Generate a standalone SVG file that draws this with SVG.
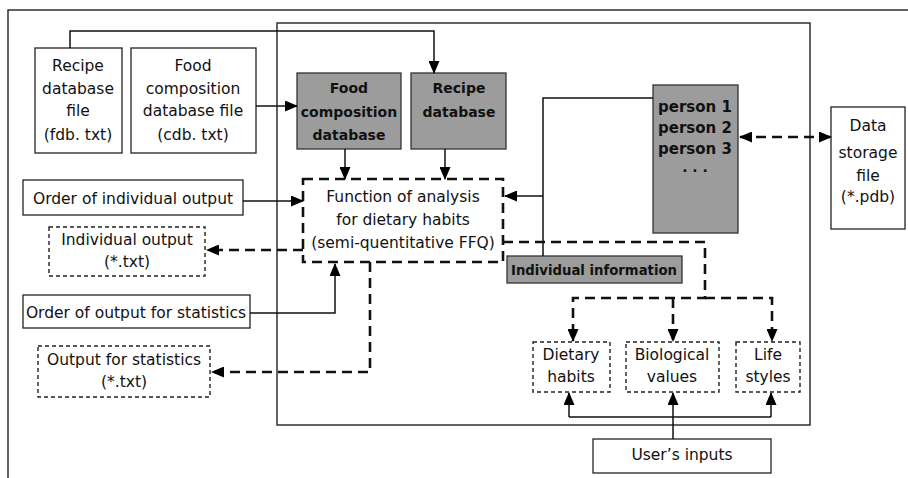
<svg xmlns="http://www.w3.org/2000/svg" width="908" height="478" viewBox="0 0 908 478">
<defs>
<marker id="ah" markerUnits="userSpaceOnUse" markerWidth="13" markerHeight="11" refX="12" refY="5.5" orient="auto-start-reverse" viewBox="0 0 13 11">
<path d="M0,0 L13,5.5 L0,11 z" fill="#000" stroke="none"/>
</marker>
</defs>
<style>
text{font-family:"DejaVu Sans","Liberation Sans",Arial,sans-serif;font-size:15.5px;fill:#111;text-anchor:middle}
.g text{font-weight:bold;font-size:14px;fill:#111}
.box{fill:#fff;stroke:#222;stroke-width:1.3}
.dbox{fill:#fff;stroke:#222;stroke-width:1.4;stroke-dasharray:4 3}
.gbox{fill:#9c9c9c;stroke:#333;stroke-width:1.3}
.fbox{fill:none;stroke:#111;stroke-width:2.6;stroke-dasharray:10 6}
.c{fill:none;stroke:#111;stroke-width:1.5}
.d{fill:none;stroke:#111;stroke-width:2.6;stroke-dasharray:10 6}
.frame{fill:none;stroke:#222;stroke-width:1.4}
</style>
<rect width="908" height="478" fill="#fff"/>
<rect class="frame" x="8" y="10" width="930" height="500"/>
<rect class="frame" x="277" y="23" width="533" height="402"/>

<g id="recipe-file"><rect class="box" x="35" y="48" width="87" height="105"/>
<text x="78" y="71">Recipe</text><text x="78" y="94">database</text><text x="78" y="116">file</text><text x="78" y="140">(fdb. txt)</text></g>
<g id="foodcomp-file"><rect class="box" x="131" y="48" width="125" height="105"/>
<text x="193" y="71">Food</text><text x="193" y="94">composition</text><text x="193" y="116">database file</text><text x="193" y="140">(cdb. txt)</text></g>
<g id="foodcomp-db" class="g"><rect class="gbox" x="297" y="73" width="104" height="76"/>
<text x="349" y="93">Food</text><text x="349" y="117">composition</text><text x="349" y="140">database</text></g>
<g id="recipe-db" class="g"><rect class="gbox" x="411" y="73" width="95" height="76"/>
<text x="459" y="93">Recipe</text><text x="459" y="117">database</text></g>
<g id="persons" class="g"><rect class="gbox" x="653" y="85" width="85" height="148"/>
<text x="695" y="112" style="font-size:15px">person 1</text><text x="695" y="133" style="font-size:15px">person 2</text><text x="695" y="154" style="font-size:15px">person 3</text><text x="695" y="176">· · ·</text></g>
<g id="data-storage"><rect class="box" x="831" y="107" width="74" height="122"/>
<text x="868" y="131">Data</text><text x="868" y="158">storage</text><text x="868" y="181">file</text><text x="868" y="202">(*.pdb)</text></g>
<g id="function"><rect class="fbox" x="303" y="179" width="200" height="83"/>
<text x="403" y="202">Function of analysis</text><text x="403" y="225">for dietary habits</text><text x="403" y="248">(semi-quentitative FFQ)</text></g>
<g id="order-individual"><rect class="box" x="23" y="180" width="220" height="35"/>
<text x="133" y="204">Order of individual output</text></g>
<g id="individual-output"><rect class="dbox" x="49" y="227" width="156" height="49"/>
<text x="127" y="245">Individual output</text><text x="127" y="267">(*.txt)</text></g>
<g id="order-statistics"><rect class="box" x="23" y="295" width="227" height="33"/>
<text x="136" y="318">Order of output for statistics</text></g>
<g id="output-statistics"><rect class="dbox" x="38" y="346" width="172" height="51"/>
<text x="124" y="365">Output for statistics</text><text x="124" y="387">(*.txt)</text></g>
<g id="individual-info" class="g"><rect class="gbox" x="507" y="256" width="175" height="27"/>
<text x="594" y="275" textLength="166" lengthAdjust="spacingAndGlyphs">Individual information</text></g>
<g id="dietary-habits"><rect class="dbox" x="533" y="342" width="77" height="50"/>
<text x="571" y="360">Dietary</text><text x="571" y="382">habits</text></g>
<g id="biological-values"><rect class="dbox" x="626" y="342" width="93" height="50"/>
<text x="672" y="360">Biological</text><text x="672" y="382">values</text></g>
<g id="life-styles"><rect class="dbox" x="736" y="342" width="64" height="50"/>
<text x="768" y="360">Life</text><text x="768" y="382">styles</text></g>
<g id="users-inputs"><rect class="box" x="593" y="439" width="178" height="34"/>
<text x="682" y="460">User’s inputs</text></g>

<g id="connectors">
<path class="c" d="M70,48 V31 H434 V73" marker-end="url(#ah)"/>
<path class="c" d="M256,106 H297" marker-end="url(#ah)"/>
<path class="c" d="M345,149 V179" marker-end="url(#ah)"/>
<path class="c" d="M445,149 V179" marker-end="url(#ah)"/>
<path class="c" d="M653,98 H543 V256"/>
<path class="c" d="M543,196 H505" marker-end="url(#ah)"/>
<path class="c" d="M243,201 H303" marker-end="url(#ah)"/>
<path class="d" d="M303,250 H207" marker-end="url(#ah)"/>
<path class="c" d="M250,313 H335 V264" marker-end="url(#ah)"/>
<path class="d" d="M370,262 V372 H212" marker-end="url(#ah)"/>
<path class="d" d="M503,242 H705 V298 H573 V341" marker-end="url(#ah)"/>
<path class="d" d="M705,298 H772 V341" marker-end="url(#ah)"/>
<path class="d" d="M673,298 V341" marker-end="url(#ah)"/>
<path class="d" d="M740,137 H831" marker-start="url(#ah)" marker-end="url(#ah)"/>
<path class="c" d="M673,439 V393" marker-end="url(#ah)"/>
<path class="c" d="M569,417 H771"/>
<path class="c" d="M569,417 V393" marker-end="url(#ah)"/>
<path class="c" d="M771,417 V393" marker-end="url(#ah)"/>
</g>
</svg>
